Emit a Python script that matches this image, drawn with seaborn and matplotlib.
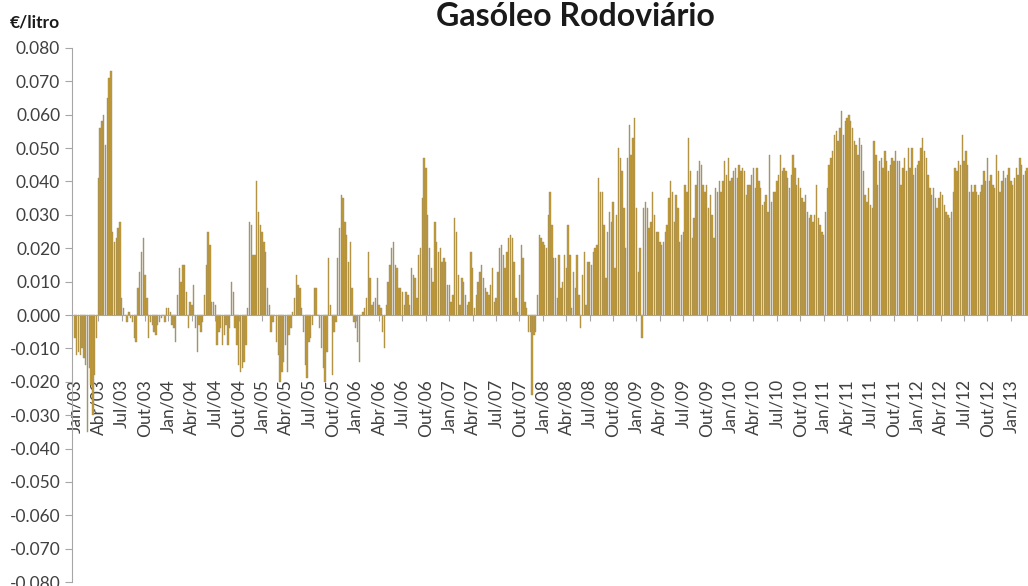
import numpy as np
import pandas as pd
import matplotlib
matplotlib.use("Agg")
import matplotlib.pyplot as plt
import seaborn as sns
from matplotlib.ticker import FuncFormatter

# -----------------------------
# DATA (weekly values, €/litro)
# -----------------------------
y2003 = [-0.007, -0.012, -0.011, -0.012, -0.010, -0.013, -0.015, -0.035, -0.016, -0.021, -0.030, -0.018, -0.007,
         0.041, 0.056, 0.058, 0.060, 0.051, 0.065, 0.071, 0.073, 0.025, 0.022, 0.023, 0.026, 0.028,
         0.005, 0.002, 0.000, -0.002, 0.001, -0.001, -0.002, -0.007, -0.008, 0.008, 0.013, 0.019, 0.023,
         0.012, 0.005, -0.007, -0.002, -0.003, -0.005, -0.006, -0.003, -0.002, -0.001, 0.000, -0.002, 0.002]
y2004 = [0.002, 0.001, -0.003, -0.004, -0.008, 0.006, 0.014, 0.010, 0.015, 0.015, 0.007, -0.004, 0.004,
         0.003, 0.009, -0.004, -0.011, -0.003, -0.005, -0.002, 0.006, 0.015, 0.025, 0.021, 0.004, 0.004,
         0.003, -0.009, -0.005, -0.004, -0.009, -0.006, -0.003, -0.009, -0.004, 0.010, 0.007, -0.004, -0.009,
         -0.015, -0.017, -0.016, -0.014, -0.009, 0.002, 0.028, 0.027, 0.018, 0.018, 0.040, 0.031, 0.027]
y2005 = [0.025, 0.022, 0.019, 0.008, 0.003, -0.005, -0.002, 0.000, -0.008, -0.012, -0.020, -0.017, -0.014,
         -0.009, -0.017, -0.006, -0.004, 0.001, 0.005, 0.012, 0.009, 0.008, 0.002, -0.005, -0.015, -0.019,
         -0.008, -0.007, -0.003, 0.008, 0.008, 0.000, -0.004, -0.010, -0.016, -0.020, -0.011, 0.017, 0.003,
         -0.018, -0.005, -0.002, 0.017, 0.026, 0.036, 0.035, 0.028, 0.024, 0.016, 0.022, 0.008, -0.002]
y2006 = [-0.004, -0.008, -0.014, 0.000, 0.001, 0.002, 0.005, 0.019, 0.011, 0.003, 0.004, 0.005, 0.011,
         0.003, 0.002, -0.005, -0.010, 0.003, 0.010, 0.015, 0.020, 0.022, 0.015, 0.014, 0.008, 0.008,
         0.007, 0.003, 0.007, 0.006, 0.003, 0.014, 0.012, 0.011, 0.005, 0.018, 0.020, 0.035, 0.047,
         0.044, 0.030, 0.020, 0.014, 0.010, 0.028, 0.022, 0.019, 0.020, 0.016, 0.017, 0.016, 0.009]
y2007 = [0.009, 0.004, 0.006, 0.029, 0.025, 0.012, 0.003, 0.011, 0.010, 0.006, 0.003, 0.004, 0.019,
         0.014, 0.002, 0.006, 0.010, 0.013, 0.015, 0.011, 0.008, 0.007, 0.006, 0.009, 0.014, 0.004,
         0.005, 0.013, 0.020, 0.021, 0.018, 0.014, 0.019, 0.023, 0.024, 0.023, 0.016, 0.005, 0.001,
         0.012, 0.021, 0.017, 0.004, 0.002, -0.005, -0.005, -0.024, -0.006, -0.005, 0.006, 0.024, 0.023]
y2008 = [0.022, 0.021, 0.020, 0.030, 0.037, 0.027, 0.017, 0.017, 0.005, 0.018, 0.008, 0.010, 0.018,
         0.014, 0.027, 0.018, 0.002, 0.013, 0.008, 0.018, 0.006, -0.004, 0.012, 0.019, 0.003, 0.016,
         0.016, 0.015, 0.019, 0.020, 0.021, 0.041, 0.037, 0.037, 0.027, 0.011, 0.025, 0.031, 0.028,
         0.034, 0.014, 0.030, 0.050, 0.047, 0.043, 0.032, 0.020, 0.047, 0.057, 0.048, 0.053, 0.059]
y2009 = [0.032, 0.013, 0.020, -0.007, 0.032, 0.034, 0.032, 0.026, 0.028, 0.037, 0.030, 0.025, 0.025,
         0.022, 0.021, 0.022, 0.025, 0.027, 0.035, 0.040, 0.037, 0.028, 0.036, 0.032, 0.022, 0.024,
         0.025, 0.039, 0.037, 0.053, 0.043, 0.023, 0.029, 0.039, 0.043, 0.046, 0.045, 0.039, 0.037,
         0.039, 0.032, 0.036, 0.030, 0.023, 0.038, 0.037, 0.040, 0.037, 0.040, 0.046, 0.042, 0.047]
y2010 = [0.040, 0.041, 0.043, 0.044, 0.041, 0.045, 0.043, 0.044, 0.043, 0.036, 0.039, 0.039, 0.042,
         0.044, 0.038, 0.044, 0.040, 0.038, 0.033, 0.034, 0.036, 0.031, 0.048, 0.034, 0.037, 0.037,
         0.040, 0.042, 0.048, 0.043, 0.044, 0.043, 0.041, 0.038, 0.042, 0.048, 0.044, 0.039, 0.041,
         0.038, 0.035, 0.034, 0.036, 0.031, 0.029, 0.030, 0.028, 0.030, 0.039, 0.029, 0.027, 0.025]
y2011 = [0.024, 0.031, 0.038, 0.045, 0.047, 0.049, 0.054, 0.055, 0.052, 0.056, 0.061, 0.054, 0.058,
         0.059, 0.060, 0.058, 0.056, 0.052, 0.051, 0.048, 0.053, 0.051, 0.043, 0.036, 0.034, 0.038,
         0.033, 0.032, 0.052, 0.048, 0.039, 0.046, 0.047, 0.044, 0.049, 0.046, 0.043, 0.045, 0.047,
         0.046, 0.049, 0.046, 0.046, 0.039, 0.044, 0.047, 0.043, 0.050, 0.044, 0.050, 0.042, 0.044]
y2012 = [0.045, 0.046, 0.050, 0.053, 0.049, 0.047, 0.042, 0.038, 0.036, 0.038, 0.035, 0.032, 0.035,
         0.037, 0.036, 0.033, 0.031, 0.030, 0.029, 0.031, 0.037, 0.044, 0.043, 0.046, 0.045, 0.054,
         0.046, 0.049, 0.045, 0.037, 0.039, 0.037, 0.039, 0.037, 0.036, 0.037, 0.039, 0.043, 0.040,
         0.047, 0.040, 0.042, 0.039, 0.038, 0.048, 0.043, 0.037, 0.040, 0.043, 0.041, 0.042, 0.044]
y2013 = [0.040, 0.039, 0.041, 0.044, 0.042, 0.047, 0.045, 0.042, 0.043, 0.044]

meses = ["Jan", "Abr", "Jul", "Out"]
anos = ["03", "04", "05", "06", "07", "08", "09", "10", "11", "12", "13"]

valores = y2003 + y2004 + y2005 + y2006 + y2007 + y2008 + y2009 + y2010 + y2011 + y2012 + y2013
df = pd.DataFrame({"semana": range(len(valores)), "valor": valores})

# quarterly tick labels (13 weeks apart)
tick_labels = [f"{m}/{a}" for a in anos for m in meses][:41]
tick_pos = [13 * k for k in range(len(tick_labels))]

# -----------------------------
# PLOT
# -----------------------------
sns.set_style("white")
plt.rcParams["font.family"] = ["Lato", "DejaVu Sans"]

bar_fill = "#C59B2E"
bar_edge = "#9A8C66"
axis_grey = "#A6A6A6"
text_grey = "#404040"

fig = plt.figure(figsize=(10.28, 5.86), dpi=100)
ax = fig.add_axes([0.070, 0.0068, 0.930, 0.9113])

sns.barplot(data=df, x="semana", y="valor", color=bar_fill, saturation=1,
            width=0.8, edgecolor=bar_edge, linewidth=0.3, errorbar=None, ax=ax)

# move the x axis to zero first (this rebuilds the ticks)
for s in ["top", "right"]:
    ax.spines[s].set_visible(False)
ax.spines["left"].set_color(axis_grey)
ax.spines["bottom"].set_color(axis_grey)
ax.spines["bottom"].set_position(("data", 0))

ax.set_xlim(-1.6, 529.5)
ax.set_ylim(-0.08, 0.08)

ax.set_yticks(np.round(np.arange(-0.08, 0.0801, 0.01), 3))
ax.yaxis.set_major_formatter(FuncFormatter(lambda v, p: f"{(round(v, 3) + 0.0):.3f}".replace("-0.000", "0.000")))

ax.set_xticks(tick_pos)
ax.set_xticklabels(tick_labels)

ax.tick_params(axis="x", bottom=True, length=4, width=0.8, color=axis_grey,
               pad=42, labelsize=12.5, labelcolor=text_grey, labelrotation=90)
ax.tick_params(axis="y", left=True, length=5, width=0.8, color=axis_grey,
               labelsize=12.5, labelcolor=text_grey)
ax.set_xlabel("")
ax.set_ylabel("")

fig.text(575 / 1028, 1 - 16 / 586, "Gasóleo Rodoviário", ha="center", va="center",
         fontsize=23, fontweight="bold", color="#1a1a1a")
fig.text(10 / 1028, 1 - 22 / 586, "€/litro", ha="left", va="center",
         fontsize=12.5, fontweight="bold", color="#1a1a1a")

fig.savefig("out.png", dpi=100)
